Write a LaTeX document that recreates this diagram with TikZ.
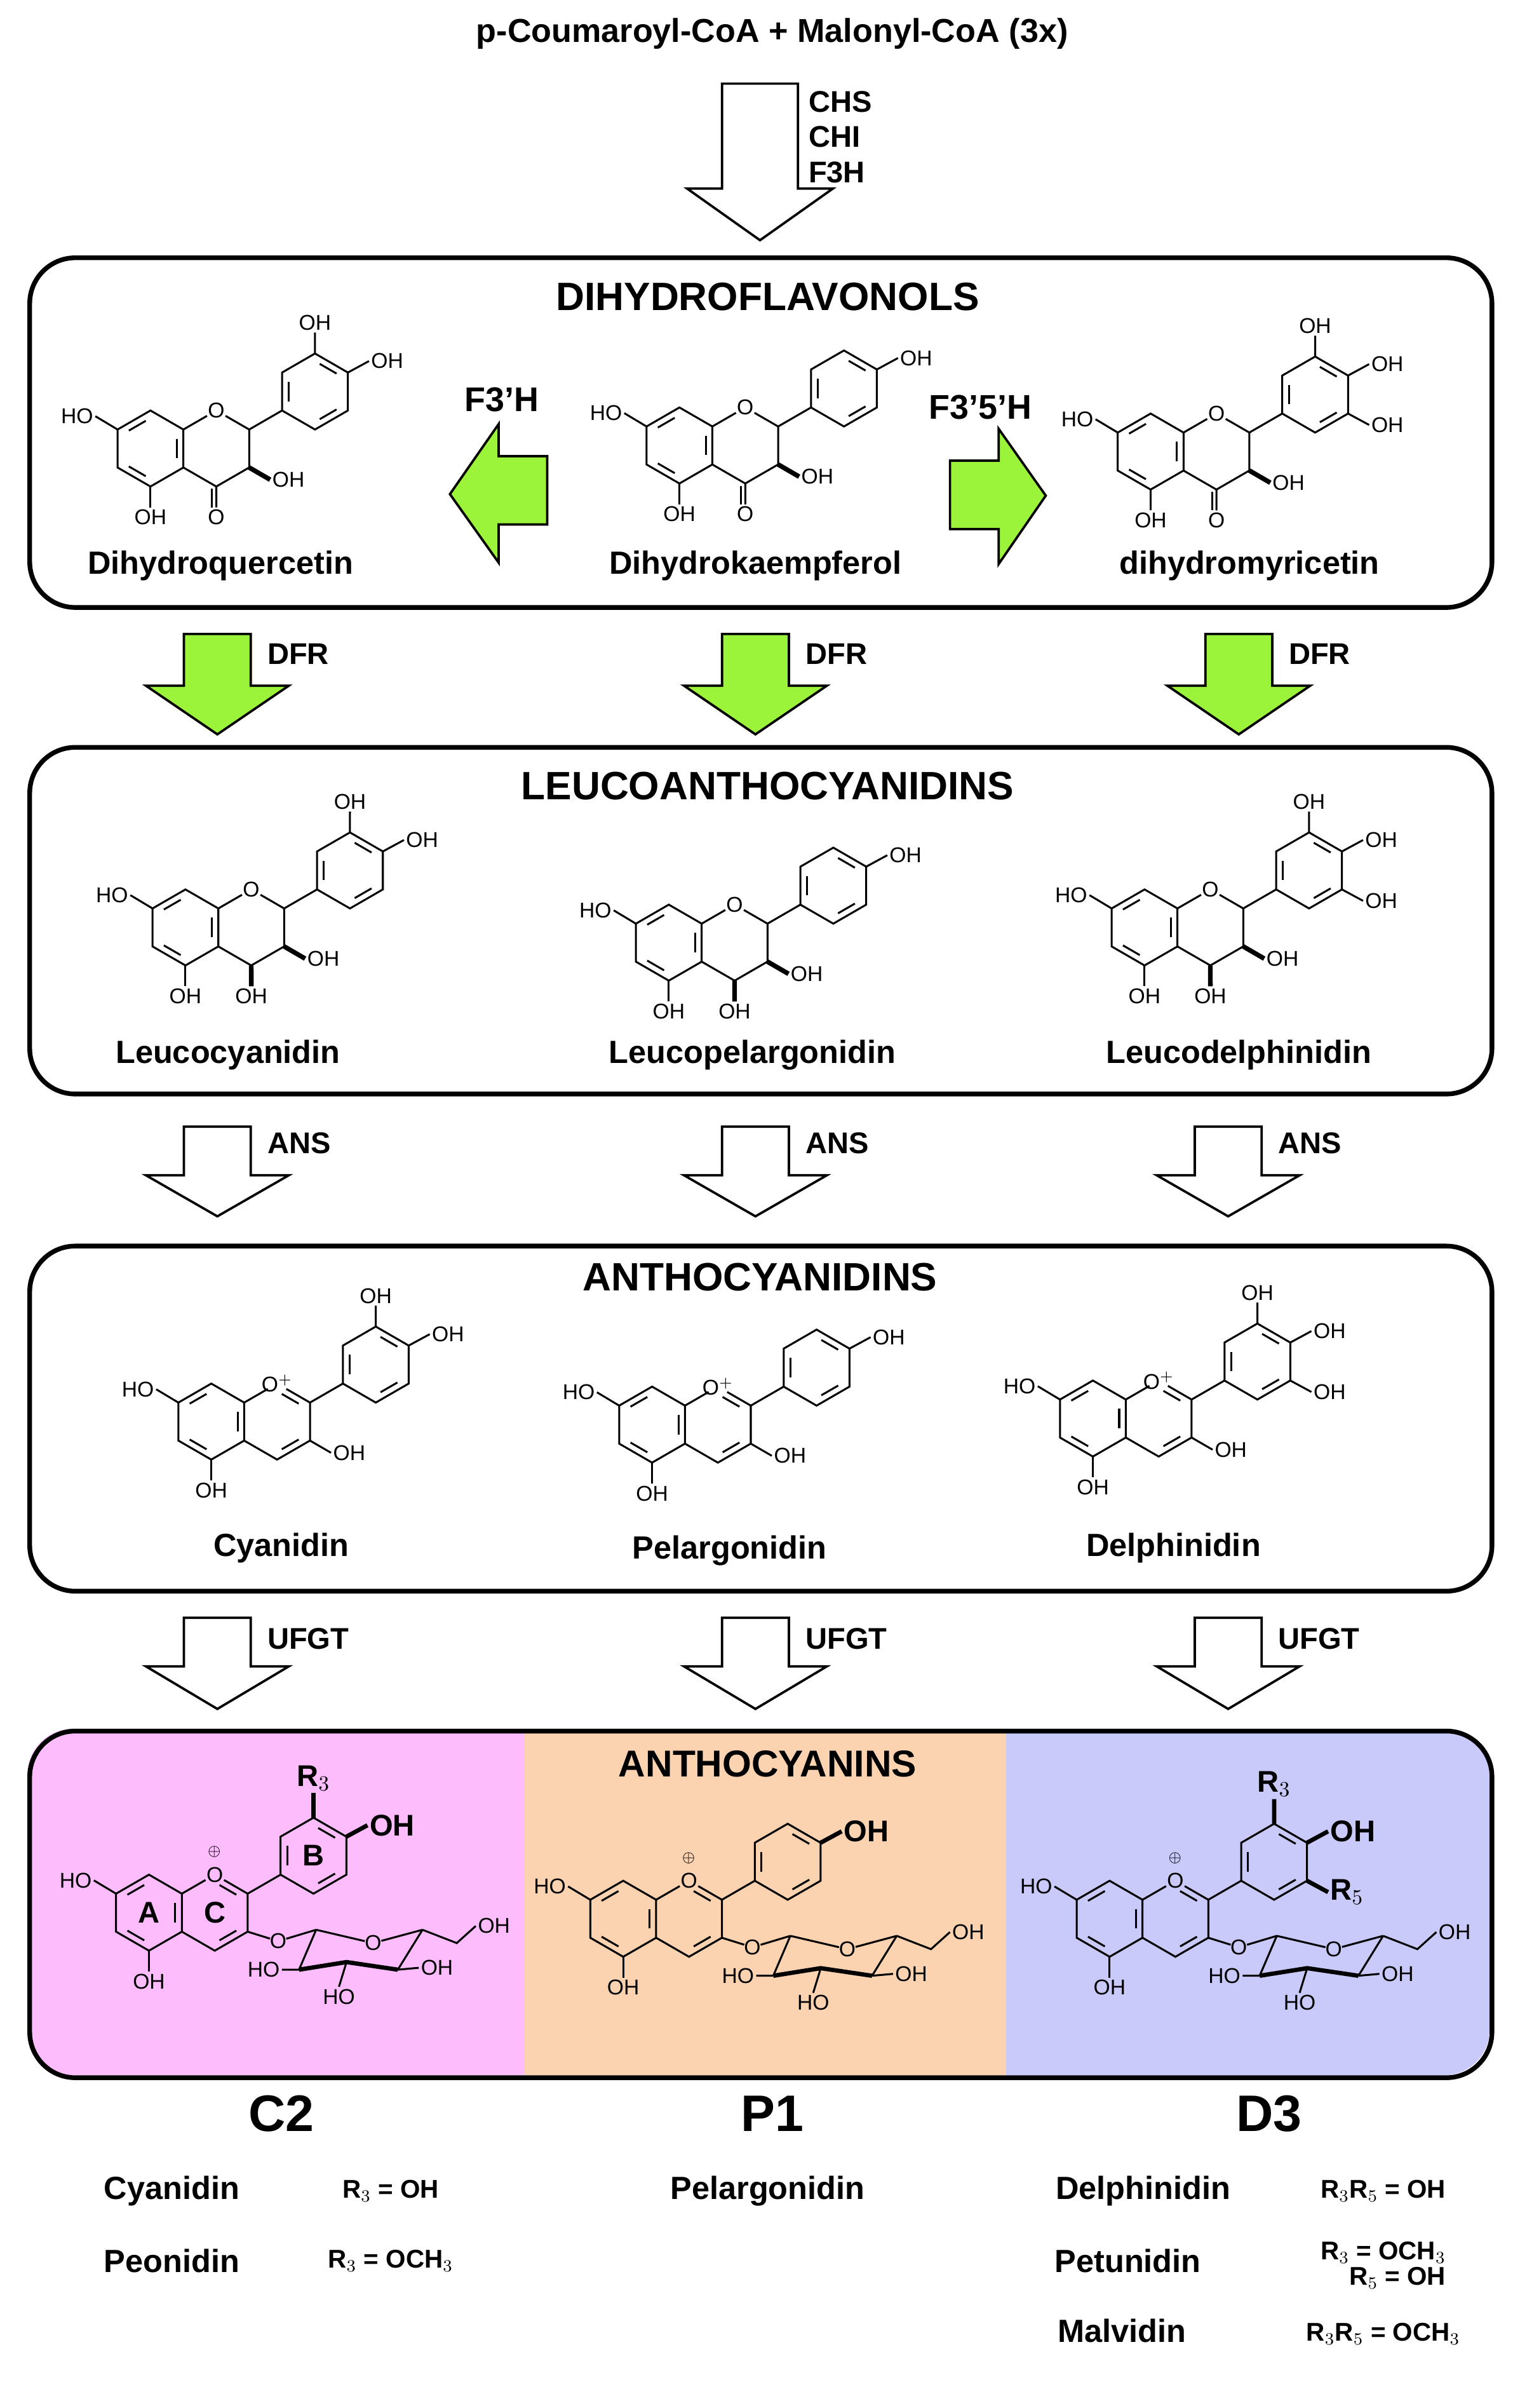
\documentclass[tikz,border=0pt]{standalone}
\usepackage{fontspec}
\setmainfont{Liberation Sans}
\usetikzlibrary{calc}
\definecolor{lime}{HTML}{9CF43A}
\definecolor{pinkbg}{HTML}{FDBDFD}
\definecolor{orangebg}{HTML}{FCD3B0}
\definecolor{bluebg}{HTML}{C9CAF9}
\tikzset{
 lbl/.style={font=\fontsize{10}{10}\selectfont, inner sep=0.6pt},
 blbl/.style={font=\bfseries\fontsize{14}{14}\selectfont, inner sep=0.6pt},
 nm/.style={font=\bfseries\fontsize{15}{16}\selectfont},
 enz/.style={font=\bfseries\fontsize{14}{15}\selectfont, anchor=west},
 req/.style={font=\bfseries\fontsize{12}{12}\selectfont, inner sep=0.5pt},
 ttl/.style={font=\bfseries\fontsize{18.5}{20}\selectfont},
 big/.style={font=\bfseries\fontsize{24}{26}\selectfont},
 box/.style={draw, line width=2.2pt, rounded corners=0.75cm},
 openarr/.style={draw, line width=1.1pt, fill=white},
 greenarr/.style={draw, line width=1.1pt, fill=lime},
}
\newcommand\dbl[3]{\draw ($(#1)!.18!(#2)!.2!(#3)$) -- ($(#2)!.18!(#1)!.2!(#3)$);}
% #1 x, #2 y, #3 type, #4 B pattern
\newcommand\flav[4]{%
\begin{scope}[shift={(#1,#2)}, scale=25, yscale=-1, line width=0.9pt]
\coordinate (ac) at (0,0); \coordinate (cc) at (1.732,0); \coordinate (bc) at (4.33,1.5);
\coordinate (a1) at (0,1); \coordinate (a2) at (.866,.5); \coordinate (a3) at (.866,-.5);
\coordinate (a4) at (0,-1); \coordinate (a5) at (-.866,-.5); \coordinate (a6) at (-.866,.5);
\coordinate (o1) at (1.732,1); \coordinate (c2) at (2.598,.5); \coordinate (c3) at (2.598,-.5); \coordinate (c4) at (1.732,-1);
\coordinate (b1) at (3.464,1); \coordinate (b2) at (3.464,2); \coordinate (b3) at (4.33,2.5);
\coordinate (b4) at (5.196,2); \coordinate (b5) at (5.196,1); \coordinate (b6) at (4.33,.5);
\draw (a1)--(a2)--(a3)--(a4)--(a5)--(a6)--cycle;
\draw[shorten >=5pt] (a2)--(o1); \draw[shorten <=5pt] (o1)--(c2);
\draw (c2)--(c3)--(c4)--(a3); \draw (c2)--(b1);
\draw (b1)--(b2)--(b3)--(b4)--(b5)--(b6)--cycle;
\dbl{a6}{a1}{ac}\dbl{a2}{a3}{ac}\dbl{a4}{a5}{ac}
\dbl{b1}{b2}{bc}\dbl{b3}{b4}{bc}\dbl{b5}{b6}{bc}
\draw (a6)--(-1.45,.85) node[anchor=east,lbl]{HO};
\draw (a4)--(0,-1.55) node[anchor=north,lbl]{OH};
\ifcase#3\or
 \node[lbl] at (o1) {O};
 \draw[line width=2.2pt] (c3)--(3.15,-.82); \node[anchor=west,lbl] at (3.15,-.82) {OH};
 \draw (c4)--(1.732,-1.55) node[anchor=north,lbl]{O};
 \draw (1.62,-1.06)--(1.62,-1.55);
\or
 \node[lbl] at (o1) {O};
 \draw[line width=2.2pt] (c3)--(3.15,-.82); \node[anchor=west,lbl] at (3.15,-.82) {OH};
 \draw[line width=2.2pt] (c4)--(1.732,-1.55); \node[anchor=north,lbl] at (1.732,-1.55) {OH};
\or
 \node[lbl] at (o1) {O$^{+}$};
 \dbl{o1}{c2}{cc}\dbl{c3}{c4}{cc}
 \draw (c3)--(3.15,-.82) node[anchor=west,lbl]{OH};
\or
 \node[lbl] at (o1) {O};
 \node[font=\fontsize{7}{7}\selectfont] at (1.72,1.6) {$\oplus$};
 \dbl{o1}{c2}{cc}\dbl{c3}{c4}{cc}
 \draw[shorten >=4pt] (c3)--(3.4,-.75); \node[lbl] at (3.4,-.75) {O};
 \coordinate (g1) at (4.4,-0.45); \coordinate (g2) at (3.95,-1.5); \coordinate (g3) at (5.2,-1.3);
 \coordinate (g4) at (6.55,-1.5); \coordinate (g5) at (7.2,-0.45); \coordinate (g6) at (5.9,-0.8);
 \draw[shorten <=4pt] (3.4,-.75)--(g1);
 \draw (g1)--(g2); \draw[line width=2pt] (g2)--(g3)--(g4); \draw (g4)--(g5);
 \draw[shorten >=4pt] (g5)--(g6); \draw[shorten <=4pt] (g6)--(g1);
 \node[lbl] at (g6) {O};
 \draw (g5)--(8.1,-0.8)--(8.6,-0.35) node[anchor=west,lbl]{OH};
 \draw (g4)--(7.1,-1.45) node[anchor=west,lbl]{OH};
 \draw (g3)--(5.0,-1.95) node[anchor=north,lbl]{HO};
 \draw (g2)--(3.5,-1.5) node[anchor=east,lbl]{HO};
\fi
\ifcase#4\or
 \draw (b4)--(5.75,2.3) node[anchor=west,lbl]{OH};
\or
 \draw (b4)--(5.75,2.3) node[anchor=west,lbl]{OH};
 \draw (b3)--(4.33,3.05) node[anchor=south,lbl]{OH};
\or
 \draw (b4)--(5.75,2.3) node[anchor=west,lbl]{OH};
 \draw (b3)--(4.33,3.05) node[anchor=south,lbl]{OH};
 \draw (b5)--(5.75,.7) node[anchor=west,lbl]{OH};
\or
 \draw[line width=2pt] (b4)--(5.75,2.3); \node[anchor=west,blbl] at (5.75,2.3) {OH};
 \draw[line width=2pt] (b3)--(4.33,3.15); \node[anchor=south,blbl] at (4.33,3.15) {R$_3$};
 \node[blbl] at (ac) {A}; \node[blbl] at (cc) {C}; \node[blbl] at (bc) {B};
\or
 \draw[line width=2pt] (b4)--(5.75,2.3); \node[anchor=west,blbl] at (5.75,2.3) {OH};
\or
 \draw[line width=2pt] (b4)--(5.75,2.3); \node[anchor=west,blbl] at (5.75,2.3) {OH};
 \draw[line width=2pt] (b3)--(4.33,3.15); \node[anchor=south,blbl] at (4.33,3.15) {R$_3$};
 \draw[line width=2pt] (b5)--(5.75,.7); \node[anchor=west,blbl] at (5.75,.7) {R$_5$};
\fi
\end{scope}}
% down arrow: #1 cx, #2 top, #3 head base, #4 tip, #5 style
\newcommand\dnarr[5]{\draw[#5] (#1-22,#2)--(#1+22,#2)--(#1+22,#3)--(#1+47,#3)--(#1,#4)--(#1-47,#3)--(#1-22,#3)--cycle;}
\begin{document}
\begin{tikzpicture}[x=0.025cm,y=-0.025cm]
\useasboundingbox (0,0) rectangle (1000,1583.8);
\begin{scope}
\clip[rounded corners=0.75cm] (18,1137) rectangle (980,1365);
\fill[pinkbg] (18,1137) rectangle (345,1365);
\fill[orangebg] (345,1137) rectangle (662,1365);
\fill[bluebg] (662,1137) rectangle (980,1365);
\end{scope}
\node[box, minimum width=962*0.025cm, minimum height=230*0.025cm, anchor=north west] (box1) at (18,168) {};
\node[box, minimum width=962*0.025cm, minimum height=228*0.025cm, anchor=north west] (box2) at (18,490) {};
\node[box, minimum width=962*0.025cm, minimum height=227*0.025cm, anchor=north west] (box3) at (18,818) {};
\node[box, minimum width=962*0.025cm, minimum height=228*0.025cm, anchor=north west] (box4) at (18,1137) {};

\node[font=\bfseries\fontsize{15.5}{17}\selectfont] (start) at (508,22) {p-Coumaroyl-CoA + Malonyl-CoA (3x)};
\draw[openarr] (475,55)--(525,55)--(525,124)--(548,124)--(500,158)--(452,124)--(475,124)--cycle;
\node[enz, align=left, font=\bfseries\fontsize{14}{16.5}\selectfont] (enz1) at (527,90) {CHS\\CHI\\F3H};

\node[ttl] (t1) at (505,195) {DIHYDROFLAVONOLS};
\flav{99}{295}{1}{2}
\flav{447}{293}{1}{1}
\flav{757}{297}{1}{3}
\node[nm] (dq) at (145,372) {Dihydroquercetin};
\node[nm] (dk) at (497,372) {Dihydrokaempferol};
\node[nm] (dm) at (822,372) {dihydromyricetin};
\draw[greenarr] (296,325)--(328,279)--(328,300)--(360,300)--(360,345)--(328,345)--(328,370)--cycle;
\draw[greenarr] (688,326)--(657,282)--(657,303)--(625,303)--(625,348)--(657,348)--(657,371)--cycle;
\node[font=\bfseries\fontsize{16}{17}\selectfont] (f3h) at (330,263) {F3’H};
\node[font=\bfseries\fontsize{16}{17}\selectfont] (f35h) at (645,268) {F3’5’H};

\foreach \cx/\n in {143/a,497/b,815/c}{
 \dnarr{\cx}{417}{451}{483}{greenarr}
 \node[enz] (dfr\n) at (\cx+28,430) {DFR};
}

\node[ttl] (t2) at (505,517) {LEUCOANTHOCYANIDINS};
\flav{122}{610}{2}{2}
\flav{440}{620}{2}{1}
\flav{753}{610}{2}{3}
\node[nm] (lc) at (150,694) {Leucocyanidin};
\node[nm] (lp) at (495,694) {Leucopelargonidin};
\node[nm] (ld) at (815,694) {Leucodelphinidin};

\foreach \cx/\n in {143/a,497/b,808/c}{
 \dnarr{\cx}{741}{773}{800}{openarr}
 \node[enz] (ans\n) at (\cx+28,752) {ANS};
}

\node[ttl] (t3) at (500,840) {ANTHOCYANIDINS};
\flav{139}{935}{3}{2}
\flav{429}{937}{3}{1}
\flav{719}{933}{3}{3}
\node[nm] (cy) at (185,1018) {Cyanidin};
\node[nm] (pe) at (480,1020) {Pelargonidin};
\node[nm] (de) at (772,1018) {Delphinidin};

\foreach \cx/\n in {143/a,497/b,808/c}{
 \dnarr{\cx}{1064}{1096}{1124}{openarr}
 \node[enz] (ufgt\n) at (\cx+28,1078) {UFGT};
}

\node[ttl, font=\bfseries\fontsize{17.5}{19}\selectfont] (t4) at (505,1160) {ANTHOCYANINS};
\flav{98}{1258}{4}{4}
\flav{410}{1262}{4}{5}
\flav{730}{1262}{4}{6}

\node[big] (c2) at (185,1390) {C2};
\node[big] (p1) at (508,1390) {P1};
\node[big] (d3) at (835,1390) {D3};

\node[nm] (n1) at (113,1441) {Cyanidin};
\node[req] (r1) at (257,1441) {R$_3$ = OH};
\node[nm] (n2) at (113,1487) {Peonidin};
\node[req] (r2) at (257,1487) {R$_3$ = OCH$_3$};
\node[nm] (n3) at (505,1441) {Pelargonidin};
\node[nm] (n4) at (752,1441) {Delphinidin};
\node[req] (r4) at (910,1441) {R$_3$R$_5$ = OH};
\node[nm] (n5) at (742,1487) {Petunidin};
\node[req, align=right] (r5) at (910,1490) {R$_3$ = OCH$_3$\\R$_5$ = OH};
\node[nm] (n6) at (738,1533) {Malvidin};
\node[req] (r6) at (910,1535) {R$_3$R$_5$ = OCH$_3$};
\end{tikzpicture}
\end{document}
